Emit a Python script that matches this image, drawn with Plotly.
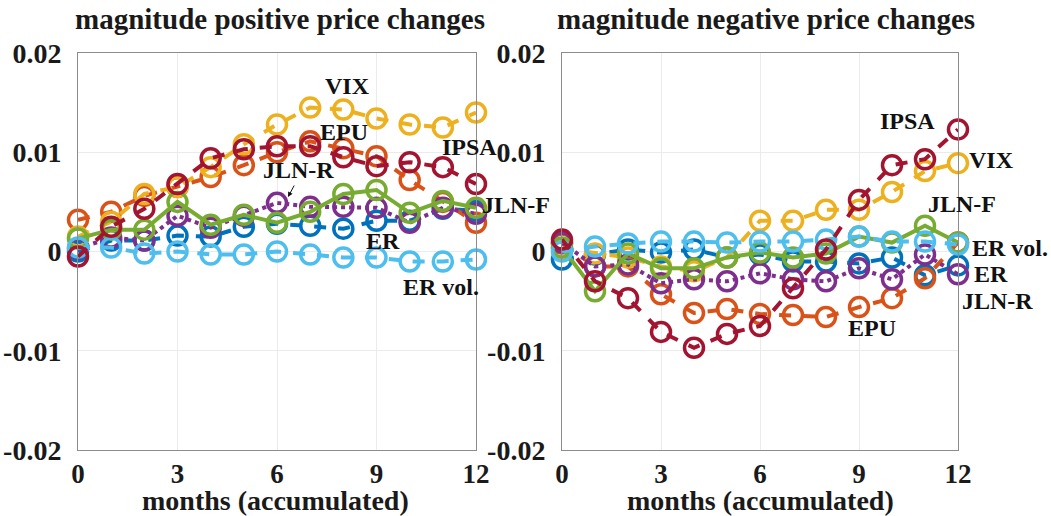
import plotly.graph_objects as go

months = list(range(13))

# Left panel: magnitude of positive price changes
pos_VIX   = [0.0015, 0.0030, 0.0058, 0.0065, 0.0085, 0.0108, 0.0128, 0.0145, 0.0143, 0.0134, 0.0128, 0.0125, 0.0140]
pos_EPU   = [0.0032, 0.0040, 0.0056, 0.0065, 0.0075, 0.0087, 0.0100, 0.0111, 0.0104, 0.0096, 0.0072, 0.0050, 0.0029]
pos_IPSA  = [-0.0005, 0.0025, 0.0043, 0.0068, 0.0094, 0.0103, 0.0106, 0.0106, 0.0095, 0.0086, 0.0090, 0.0085, 0.0068]
pos_JLNF  = [0.0013, 0.0022, 0.0022, 0.0050, 0.0027, 0.0037, 0.0029, 0.0040, 0.0058, 0.0062, 0.0039, 0.0051, 0.0044]
pos_JLNR  = [0.0003, 0.0014, 0.0011, 0.0036, 0.0024, 0.0036, 0.0049, 0.0045, 0.0045, 0.0044, 0.0029, 0.0044, 0.0038]
pos_ER    = [0.0000, 0.0011, 0.0011, 0.0016, 0.0015, 0.0025, 0.0028, 0.0026, 0.0023, 0.0031, 0.0031, 0.0043, 0.0041]
pos_ERvol = [0.0004, 0.0004, -0.0002, 0.0000, -0.0003, -0.0003, 0.0000, -0.0003, -0.0006, -0.0006, -0.0010, -0.0010, -0.0008]

# Right panel: magnitude of negative price changes
neg_VIX   = [0.0003, -0.0002, -0.0006, -0.0015, -0.0020, -0.0006, 0.0031, 0.0031, 0.0042, 0.0042, 0.0060, 0.0081, 0.0089]
neg_EPU   = [0.0008, -0.0015, -0.0015, -0.0043, -0.0062, -0.0058, -0.0063, -0.0064, -0.0066, -0.0056, -0.0047, -0.0027, 0.0009]
neg_IPSA  = [0.0012, -0.0030, -0.0047, -0.0081, -0.0097, -0.0083, -0.0075, -0.0037, 0.0002, 0.0052, 0.0087, 0.0093, 0.0123]
neg_JLNF  = [0.0004, -0.0040, -0.0002, -0.0017, -0.0017, -0.0006, -0.0001, -0.0006, -0.0002, 0.0015, 0.0009, 0.0026, 0.0009]
neg_JLNR  = [0.0009, -0.0015, -0.0013, -0.0032, -0.0028, -0.0030, -0.0022, -0.0028, -0.0030, -0.0017, -0.0028, -0.0003, -0.0023]
neg_ER    = [-0.0008, -0.0003, 0.0002, -0.0001, 0.0002, -0.0006, -0.0003, -0.0010, -0.0010, -0.0012, -0.0006, -0.0024, -0.0014]
neg_ERvol = [0.0000, 0.0005, 0.0008, 0.0010, 0.0010, 0.0009, 0.0010, 0.0010, 0.0012, 0.0015, 0.0010, 0.0010, 0.0007]

series_names = ["ER", "EPU", "VIX", "JLN-R", "JLN-F", "ER vol.", "IPSA"]
colors = {"ER": "#0072BD", "EPU": "#D95319", "VIX": "#EDB120", "JLN-R": "#7E2F8E",
          "JLN-F": "#77AC30", "ER vol.": "#4DBEEE", "IPSA": "#A2142F"}
dashes = {"ER": "dash", "EPU": "dash", "VIX": "dash", "JLN-R": "dot",
          "JLN-F": "solid", "ER vol.": "dash", "IPSA": "dash"}
left = {"ER": pos_ER, "EPU": pos_EPU, "VIX": pos_VIX, "JLN-R": pos_JLNR,
        "JLN-F": pos_JLNF, "ER vol.": pos_ERvol, "IPSA": pos_IPSA}
right = {"ER": neg_ER, "EPU": neg_EPU, "VIX": neg_VIX, "JLN-R": neg_JLNR,
         "JLN-F": neg_JLNF, "ER vol.": neg_ERvol, "IPSA": neg_IPSA}

x_ticks = [0, 3, 6, 9, 12]
y_ticks = [-0.02, -0.01, 0, 0.01, 0.02]
y_ticktext = ["-0.02", "-0.01", "0", "0.01", "0.02"]

FONT = "Liberation Serif"
fig = go.Figure()

for panel, data, xa, ya in [("L", left, "x", "y"), ("R", right, "x2", "y2")]:
    for name in series_names:
        fig.add_trace(go.Scatter(
            x=months, y=data[name], mode="lines+markers", name=name,
            xaxis=xa, yaxis=ya, cliponaxis=False, showlegend=False,
            line=dict(color=colors[name], width=4, dash=dashes[name]),
            marker=dict(symbol="circle-open", size=19, color=colors[name],
                        line=dict(width=3.5, color=colors[name])),
        ))

W, H = 1051, 516
def px(x):
    return x / W
def py(y):
    return 1 - y / H

tickfont = dict(family=FONT, size=28, color="#1a1a1a", weight="bold")
xtickfont = dict(family=FONT, size=27, color="#1a1a1a", weight="bold")
axis_common = dict(range=[0, 12], tickvals=x_ticks, ticktext=[str(v) for v in x_ticks],
                   showgrid=True, gridcolor="#ebebeb", gridwidth=1, zeroline=False,
                   showline=True, linecolor="#8c8c8c", linewidth=1, mirror=True,
                   ticks="", automargin=False, ticklabelstandoff=0, tickfont=xtickfont)
yaxis_common = dict(range=[-0.02, 0.02], tickvals=y_ticks, ticktext=y_ticktext,
                    showgrid=True, gridcolor="#ebebeb", gridwidth=1, zeroline=False,
                    showline=True, linecolor="#8c8c8c", linewidth=1, mirror=True,
                    ticks="", automargin=False, ticklabelstandoff=10, tickfont=tickfont)

fig.update_layout(
    width=W, height=H, paper_bgcolor="white", plot_bgcolor="white",
    margin=dict(l=0, r=0, t=0, b=0),
    xaxis=dict(domain=[px(78), px(476)], anchor="y", **axis_common),
    yaxis=dict(domain=[py(450), py(53)], anchor="x", **yaxis_common),
    xaxis2=dict(domain=[px(562), px(958)], anchor="y2", **axis_common),
    yaxis2=dict(domain=[py(450), py(53)], anchor="x2", **yaxis_common),
)

tfont = dict(family=FONT, size=29, color="#1a1a1a", weight="bold")
afont = dict(family=FONT, size=28, color="#1a1a1a", weight="bold")
lfont = dict(family=FONT, size=24, color="#111111", weight="bold")

annotations = [
    dict(text="magnitude positive price changes", x=px(280), y=py(19), xref="paper", yref="paper",
         showarrow=False, font=tfont, xanchor="center", yanchor="middle"),
    dict(text="magnitude negative price changes", x=px(766), y=py(19), xref="paper", yref="paper",
         showarrow=False, font=tfont, xanchor="center", yanchor="middle"),
    dict(text="months (accumulated)", x=px(275), y=py(500), xref="paper", yref="paper",
         showarrow=False, font=afont, xanchor="center", yanchor="middle"),
    dict(text="months (accumulated)", x=px(760), y=py(500), xref="paper", yref="paper",
         showarrow=False, font=afont, xanchor="center", yanchor="middle"),
]

labels = [("VIX", 347, 86), ("EPU", 344, 132), ("IPSA", 469, 147), ("JLN-R", 298, 170),
          ("ER", 383, 241), ("ER vol.", 441, 287), ("JLN-F", 516, 205),
          ("IPSA", 907, 121), ("VIX", 991, 160), ("JLN-F", 962, 204),
          ("ER vol.", 1010, 248), ("ER", 991, 274), ("JLN-R", 997, 301), ("EPU", 872, 328)]
for txt, x, y in labels:
    annotations.append(dict(text=txt, x=px(x), y=py(y), xref="paper", yref="paper",
                            showarrow=False, font=lfont, xanchor="center", yanchor="middle"))

fig.update_layout(annotations=annotations)
# small arrow pointing from the JLN-R label toward the JLN-R line
fig.add_annotation(x=px(288), y=py(197), xref="paper", yref="paper", axref="pixel", ayref="pixel",
                   ax=7, ay=-13, text="", showarrow=True, arrowhead=2, arrowsize=1,
                   arrowwidth=1, arrowcolor="#111111")

fig.write_html("out.html", config={"displayModeBar": False},
               post_script="document.body.style.margin='0';document.body.style.overflow='hidden';")
